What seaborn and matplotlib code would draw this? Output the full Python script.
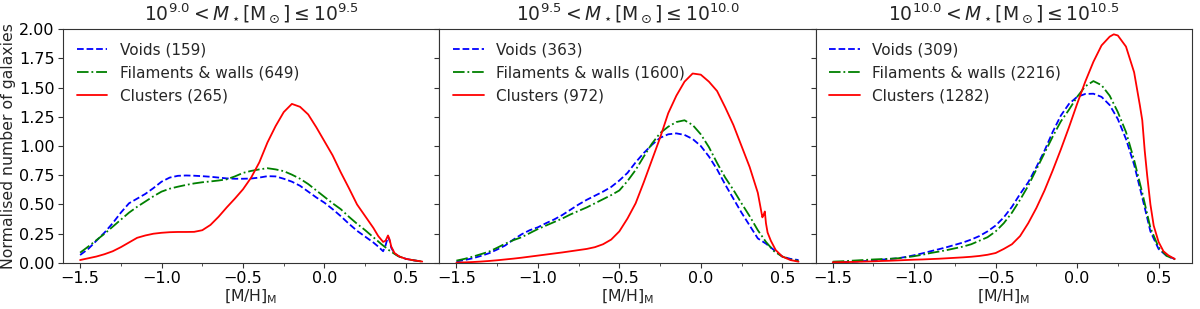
import numpy as np
import pandas as pd
import matplotlib
matplotlib.use("Agg")
import matplotlib.pyplot as plt
from matplotlib.ticker import MultipleLocator
import seaborn as sns

# ---------------- data ----------------
titles = [r'$10^{9.0} < M_\star[\mathrm{M}_\odot] \leq 10^{9.5}$',
          r'$10^{9.5} < M_\star[\mathrm{M}_\odot] \leq 10^{10.0}$',
          r'$10^{10.0} < M_\star[\mathrm{M}_\odot] \leq 10^{10.5}$']
env_names = ["Voids", "Filaments & walls", "Clusters"]
counts = [[159, 649, 265], [363, 1600, 972], [309, 2216, 1282]]

grid = [-1.50, -1.45, -1.40, -1.35, -1.30, -1.25, -1.20, -1.15, -1.10, -1.05,
        -1.00, -0.95, -0.90, -0.85, -0.80, -0.75, -0.70, -0.65, -0.60, -0.55,
        -0.50, -0.45, -0.40, -0.35, -0.30, -0.25, -0.20, -0.15, -0.10, -0.05,
        0.00, 0.05, 0.10, 0.15, 0.20, 0.25, 0.30, 0.35, 0.40, 0.45, 0.50, 0.55, 0.60]

# panel 1
x1_spike = grid[:37] + [0.33, 0.36, 0.375, 0.39, 0.40, 0.41, 0.43, 0.46, 0.50, 0.55, 0.60]
y1_voids = [0.068, 0.12, 0.19, 0.26, 0.34, 0.43, 0.51, 0.55, 0.59, 0.64,
            0.695, 0.73, 0.745, 0.748, 0.746, 0.742, 0.737, 0.73, 0.723, 0.72,
            0.72, 0.722, 0.73, 0.742, 0.74, 0.72, 0.695, 0.66, 0.61, 0.56,
            0.515, 0.46, 0.40, 0.335, 0.275, 0.225, 0.175,
            0.14, 0.10, 0.15, 0.225, 0.19, 0.13, 0.08, 0.054, 0.035, 0.022, 0.012]
y1_fil = [0.088, 0.14, 0.195, 0.25, 0.31, 0.37, 0.43, 0.48, 0.525, 0.57,
          0.61, 0.635, 0.652, 0.667, 0.68, 0.69, 0.697, 0.705, 0.715, 0.74,
          0.77, 0.787, 0.80, 0.81, 0.80, 0.785, 0.755, 0.72, 0.675, 0.62,
          0.565, 0.51, 0.46, 0.395, 0.335, 0.28, 0.22, 0.16, 0.105, 0.06, 0.035, 0.022, 0.012]
y1_clu = [0.025, 0.04, 0.055, 0.075, 0.10, 0.135, 0.175, 0.215, 0.235, 0.25,
          0.258, 0.263, 0.265, 0.265, 0.266, 0.28, 0.325, 0.395, 0.475, 0.55,
          0.63, 0.73, 0.86, 1.03, 1.17, 1.29, 1.36, 1.335, 1.27, 1.16,
          1.04, 0.92, 0.775, 0.64, 0.50, 0.40, 0.30,
          0.23, 0.18, 0.19, 0.235, 0.20, 0.14, 0.085, 0.054, 0.035, 0.022, 0.012]

# panel 2
y2_voids = [0.012, 0.025, 0.04, 0.06, 0.083, 0.115, 0.15, 0.20, 0.245, 0.28,
            0.305, 0.34, 0.372, 0.41, 0.455, 0.50, 0.54, 0.575, 0.61, 0.65,
            0.705, 0.77, 0.86, 0.94, 1.01, 1.07, 1.10, 1.108, 1.095, 1.06,
            1.00, 0.91, 0.80, 0.67, 0.55, 0.43, 0.32, 0.21, 0.165, 0.11, 0.055, 0.035, 0.025]
y2_fil = [0.02, 0.035, 0.054, 0.075, 0.097, 0.13, 0.165, 0.195, 0.22, 0.255,
          0.29, 0.32, 0.35, 0.38, 0.415, 0.445, 0.475, 0.51, 0.545, 0.58,
          0.62, 0.70, 0.795, 0.91, 1.02, 1.11, 1.165, 1.205, 1.22, 1.18,
          1.10, 0.99, 0.855, 0.73, 0.625, 0.51, 0.40, 0.28, 0.18, 0.10, 0.055, 0.03, 0.017]
x2_spike = grid[:38] + [0.378, 0.385, 0.393, 0.40, 0.41, 0.43, 0.46, 0.50, 0.55, 0.60]
y2_clu = [0.003, 0.005, 0.008, 0.012, 0.017, 0.023, 0.03, 0.037, 0.045, 0.054,
          0.063, 0.072, 0.081, 0.09, 0.10, 0.11, 0.12, 0.135, 0.16, 0.20,
          0.27, 0.38, 0.51, 0.69, 0.88, 1.07, 1.28, 1.43, 1.55, 1.62,
          1.61, 1.55, 1.47, 1.33, 1.18, 1.00, 0.82, 0.60,
          0.39, 0.41, 0.44, 0.34, 0.26, 0.19, 0.11, 0.055, 0.025, 0.011]

# panel 3
y3_voids = [0.006, 0.008, 0.01, 0.013, 0.017, 0.022, 0.028, 0.034, 0.04, 0.052,
            0.066, 0.082, 0.10, 0.117, 0.135, 0.155, 0.175, 0.20, 0.23, 0.27,
            0.32, 0.39, 0.48, 0.59, 0.69, 0.82, 0.96, 1.12, 1.26, 1.36,
            1.42, 1.445, 1.447, 1.42, 1.35, 1.23, 1.06, 0.84, 0.56, 0.27, 0.12, 0.06, 0.034]
y3_fil = [0.011, 0.014, 0.018, 0.022, 0.026, 0.03, 0.033, 0.036, 0.04, 0.048,
          0.058, 0.07, 0.085, 0.097, 0.11, 0.125, 0.14, 0.16, 0.19, 0.22,
          0.27, 0.34, 0.43, 0.54, 0.66, 0.80, 0.94, 1.08, 1.21, 1.31,
          1.42, 1.51, 1.555, 1.52, 1.43, 1.29, 1.12, 0.88, 0.60, 0.30, 0.135, 0.06, 0.031]
x3_red = grid[:35] + [0.225] + grid[35:38] + [0.385, 0.40, 0.415, 0.43, 0.45, 0.47, 0.50, 0.53, 0.56, 0.60]
y3_clu = [0.006, 0.007, 0.008, 0.01, 0.012, 0.014, 0.017, 0.019, 0.022, 0.025,
          0.028, 0.03, 0.033, 0.036, 0.04, 0.044, 0.048, 0.053, 0.06, 0.07,
          0.085, 0.12, 0.16, 0.23, 0.34, 0.47, 0.62, 0.79, 0.97, 1.16,
          1.36, 1.55, 1.72, 1.86, 1.935, 1.955, 1.945, 1.85, 1.63,
          1.35, 1.22, 0.96, 0.75, 0.50, 0.32, 0.18, 0.10, 0.065, 0.034]

panels = [
    [(x1_spike, y1_voids), (grid, y1_fil), (x1_spike, y1_clu)],
    [(grid, y2_voids), (grid, y2_fil), (x2_spike, y2_clu)],
    [(grid, y3_voids), (grid, y3_fil), (x3_red, y3_clu)],
]
for p in panels:
    for xs, ys in p:
        assert len(xs) == len(ys), (len(xs), len(ys))

# ---------------- style ----------------
sns.set_style("ticks")
plt.rcParams['font.family'] = ['DejaVu Sans']
plt.rcParams['axes.edgecolor'] = '#333333'
plt.rcParams['xtick.color'] = '#333333'
plt.rcParams['ytick.color'] = '#333333'
plt.rcParams['xtick.labelcolor'] = 'black'
plt.rcParams['ytick.labelcolor'] = 'black'

colors = ['blue', 'green', 'red']
styles = ['--', '-.', '-']

fig, axes = plt.subplots(1, 3, figsize=(12, 3.09), dpi=100, sharey=True)
fig.subplots_adjust(left=0.0525, right=0.9933, top=0.906, bottom=0.149, wspace=0)

for i, ax in enumerate(axes):
    for j, (xs, ys) in enumerate(panels[i]):
        df = pd.DataFrame({'x': xs, 'y': ys})
        sns.lineplot(data=df, x='x', y='y', ax=ax, color=colors[j],
                     linestyle=styles[j], linewidth=1.3, estimator=None, sort=False,
                     label=f"{env_names[j]} ({counts[i][j]})")
    ax.set_ylim(0, 2.0)
    ax.set_xlim(-1.605, 0.705)
    ax.xaxis.set_major_locator(MultipleLocator(0.5))
    ax.xaxis.set_minor_locator(MultipleLocator(0.25))
    ax.yaxis.set_major_locator(MultipleLocator(0.25))
    ax.set_title(titles[i], fontsize=13.5)
    ax.set_xlabel(r'[M/H]$_\mathrm{M}$', fontsize=11.3, labelpad=1)
    ax.set_ylabel('')
    ax.tick_params(axis='both', labelsize=11.5, pad=2.5)
    ax.legend(loc='upper left', frameon=False, fontsize=11)
    for s in ax.spines.values():
        s.set_visible(True)
        s.set_linewidth(0.8)

axes[0].yaxis.set_major_formatter(matplotlib.ticker.FormatStrFormatter('%.2f'))
axes[0].set_ylabel('Normalised number of galaxies', fontsize=11.3, labelpad=2)

fig.savefig('out.png', dpi=100)
